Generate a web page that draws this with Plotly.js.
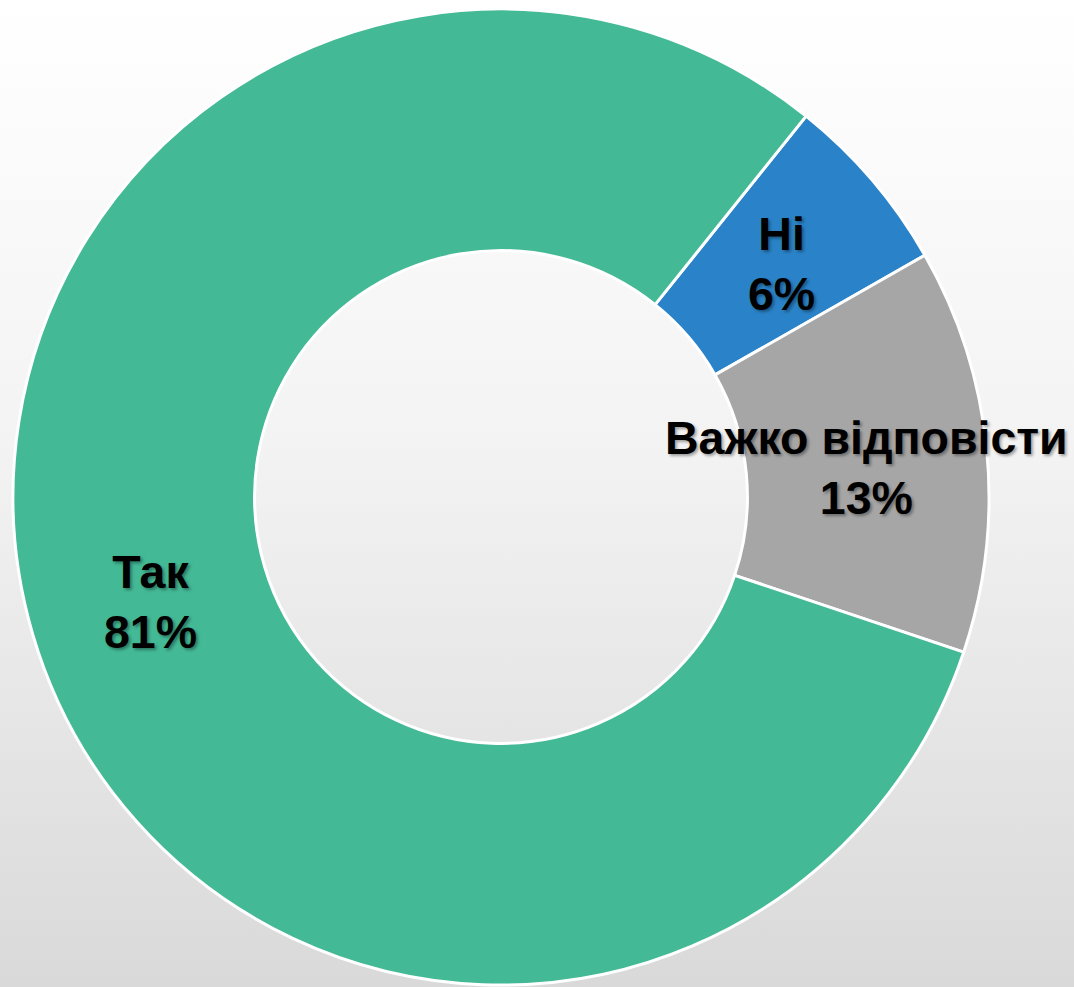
<!DOCTYPE html>
<html>
<head>
<meta charset="utf-8">
<script src="https://cdn.plot.ly/plotly-3.0.1.min.js"></script>
<style>
html,body{margin:0;padding:0;}
body{width:1074px;height:987px;background:linear-gradient(to bottom,#ffffff 0%,#f3f3f3 45%,#d9d9d9 100%);}
#chart{width:1074px;height:987px;}
</style>
</head>
<body>
<div id="chart"></div>
<script>
const labels = ["Ні", "Важко відповісти", "Так"];
const values = [6.0, 13.4, 80.6];
const colors = ["#2A83C8", "#A6A6A6", "#43B996"];

const labelPos = [
  {x: 781, y: 264},
  {x: 866, y: 468},
  {x: 150, y: 602}
];

const W = 1074, H = 987;
const total = values.reduce((a, b) => a + b, 0);

const annotations = labels.map((lab, i) => ({
  xref: "paper", yref: "paper",
  x: labelPos[i].x / W, y: 1 - labelPos[i].y / H,
  xanchor: "center", yanchor: "middle",
  showarrow: false,
  align: "center",
  text: "<b>" + lab + "<br>" + Math.round(values[i] / total * 100) + "%</b>",
  font: {family: "Liberation Sans, Arial, sans-serif", size: 46.5, color: "#000", shadow: "2px 2px 3px rgba(0,0,0,0.35)"}
}));

const cx = 501, cy = 497, r = 488;
const data = [{
  type: "pie",
  labels: labels,
  values: values,
  sort: false,
  direction: "clockwise",
  rotation: 38.7,
  hole: 0.505,
  textinfo: "none",
  hoverinfo: "label+percent",
  marker: {colors: colors, line: {color: "#ffffff", width: 3}},
  domain: {x: [(cx - r) / W, (cx + r) / W], y: [(H - cy - r) / H, (H - cy + r) / H]},
  showlegend: false
}];

const layout = {
  width: W, height: H,
  margin: {l: 0, r: 0, t: 0, b: 0},
  paper_bgcolor: "rgba(0,0,0,0)",
  plot_bgcolor: "rgba(0,0,0,0)",
  showlegend: false,
  annotations: annotations
};

Plotly.newPlot("chart", data, layout, {displayModeBar: false, staticPlot: true});
</script>
</body>
</html>
